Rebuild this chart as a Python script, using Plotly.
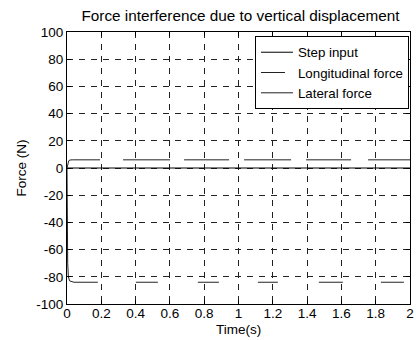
import plotly.graph_objects as go

# Data
step_t = [0, 2]
step_y = [0, 0]

# Longitudinal force: sharp initial drop, then steady value
long_drop_t = [0, 0.001, 0.004, 0.008, 0.015, 0.04]
long_drop_y = [0, -40, -70, -80, -83, -84]
long_t = [0.04, 2]
long_y = [-84, -84]

# Lateral force: quick rise then steady value
lat_t = [0, 0.004, 0.01, 0.018, 0.03, 2]
lat_y = [0, 3.5, 5.3, 5.9, 6.0, 6.0]

x_ticks = [0, 0.2, 0.4, 0.6, 0.8, 1, 1.2, 1.4, 1.6, 1.8, 2]
x_ticktext = ["0", "0.2", "0.4", "0.6", "0.8", "1", "1.2", "1.4", "1.6", "1.8", "2"]
y_ticks = [100, 80, 60, 40, 20, 0, -20, -40, -60, -80, -100]
y_ticktext = ["100", "80", "60", "40", "20", "0", "-20", "-40", "-60", "-80", "-100"]

FONT = "Liberation Sans, Arial, Helvetica, sans-serif"

fig = go.Figure()
fig.add_trace(go.Scatter(x=step_t, y=step_y, mode="lines", name="Step input",
                         line=dict(color="black", width=1)))
fig.add_trace(go.Scatter(x=long_drop_t, y=long_drop_y, mode="lines", showlegend=False,
                         hoverinfo="skip", line=dict(color="#222", width=1)))
fig.add_trace(go.Scatter(x=long_t, y=long_y, mode="lines", name="Longitudinal force",
                         line=dict(color="#222", width=1,
                                   dash="24px,38px,22px,40px,21px,39px,20px,41px,24px,38px,23px,40px")))
fig.add_trace(go.Scatter(x=lat_t, y=lat_y, mode="lines", name="Lateral force",
                         line=dict(color="#222", width=1,
                                   dash="39px,23px,47px,14px,45px,15px,47px,15px,45px,17px,46px,15px")))

axis_common = dict(
    showline=True, linecolor="black", linewidth=1, mirror="ticks",
    ticks="inside", ticklen=4, tickcolor="black",
    showgrid=True, gridcolor="#222", gridwidth=1, griddash="6px,6px",
    zeroline=False,
    tickfont=dict(family=FONT, size=13.5, color="black"),
)

fig.update_xaxes(range=[0, 2], tickvals=x_ticks, ticktext=x_ticktext,
                 ticklabeloverflow="allow", ticklabelstandoff=-3,
                 **axis_common)
fig.update_yaxes(range=[-100, 100], tickvals=y_ticks, ticktext=y_ticktext,
                 title=dict(text="Force (N)", font=dict(family=FONT, size=13.5, color="black"), standoff=6),
                 **axis_common)

fig.add_annotation(text="Time(s)", xref="paper", yref="paper", x=0.5, y=-0.058,
                   xanchor="center", yanchor="top", showarrow=False,
                   font=dict(family=FONT, size=13.5, color="black"))

fig.update_layout(
    width=416, height=340,
    margin=dict(l=67, r=2, t=32, b=36),
    plot_bgcolor="white", paper_bgcolor="white",
    title=dict(text="Force interference due to vertical displacement",
               font=dict(family=FONT, size=15.3, color="black"),
               x=0.578, xanchor="center", y=0.955, yanchor="middle"),
    legend=dict(x=0.997, y=0.985, xanchor="right", yanchor="top",
                bgcolor="white", bordercolor="black", borderwidth=1,
                font=dict(family=FONT, size=13.3, color="black"),
                tracegroupgap=0, itemwidth=32),
    showlegend=True,
)

fig.write_html("out.html")
